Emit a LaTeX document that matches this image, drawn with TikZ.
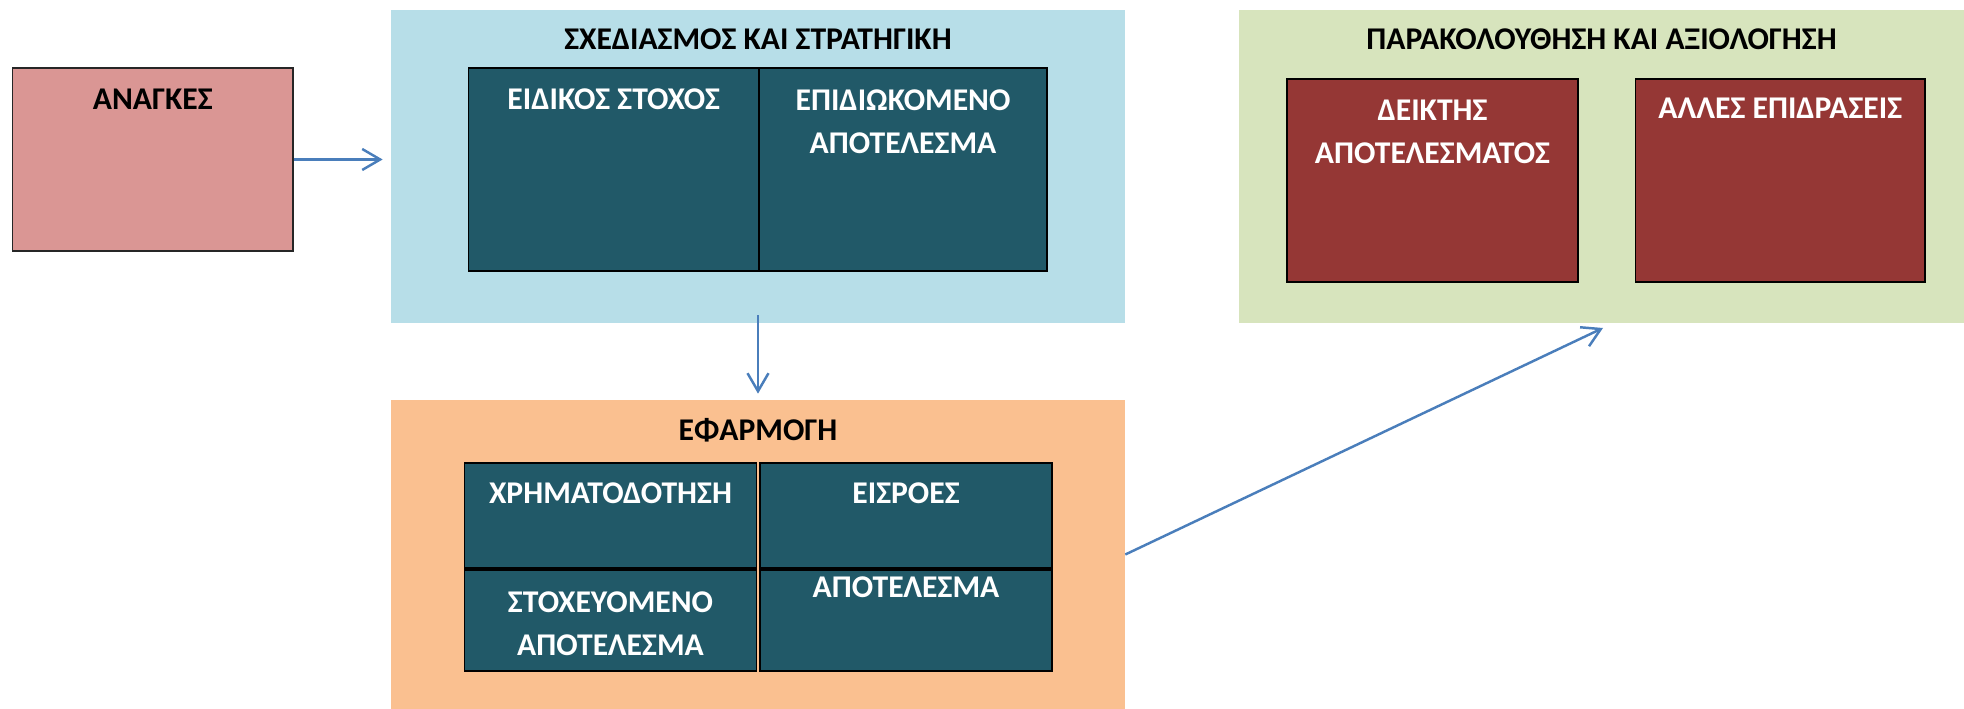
\documentclass[tikz,border=0pt]{standalone}
\usepackage{fontspec}
\setmainfont{Carlito}
\usepackage{tikz}
\usetikzlibrary{arrows.meta,positioning}
\definecolor{lfneed}{HTML}{DA9694}
\definecolor{lfplan}{HTML}{B7DEE8}
\definecolor{lfimpl}{HTML}{FAC090}
\definecolor{lfmon}{HTML}{D7E4BD}
\definecolor{lfteal}{HTML}{215968}
\definecolor{lfred}{HTML}{953735}
\definecolor{lfarrow}{HTML}{4A7EBB}
\newcommand{\lfbold}{\fontsize{18}{25}\selectfont\bfseries}
\tikzset{
  lfpanel/.style={
    rectangle, draw=none, inner sep=0pt
  },
  lfneedbox/.style={
    rectangle, draw=black!85, fill=lfneed, line width=0.8pt, inner sep=0pt
  },
  lfcell/.style={
    rectangle, draw=black, fill=lfteal, line width=0.6pt, inner sep=0pt
  },
  lfindbox/.style={
    rectangle, draw=black, fill=lfred, line width=0.6pt, inner sep=0pt
  },
  lftitle/.style={font=\lfbold,text=black,align=center,inner sep=0pt,anchor=base},
  lfcelltext/.style={font=\lfbold,text=white,align=center,inner sep=0pt,anchor=base},
  lfedge/.style={-{Straight Barb[length=3.6mm,width=4.2mm]},draw=lfarrow,line width=1.4pt}
}

\begin{document}
\begin{tikzpicture}[x=1cm,y=1cm]
\useasboundingbox (0,0) rectangle (39.28,14.18);
% Left: needs.
\node[lfneedbox,minimum width=5.61cm,minimum height=3.66cm] (need) at (3.055,10.99) {};
\node[lftitle] (needtxt) at (3.055,11.98) {ΑΝΑΓΚΕΣ};

% Middle top: planning and strategy (two-line texts sit on their last baseline).
\node[lfpanel,fill=lfplan,minimum width=14.68cm,minimum height=6.26cm] (plan) at (15.16,10.85) {};
\node[lftitle] (plantxt) at (15.16,13.18) {ΣΧΕΔΙΑΣΜΟΣ ΚΑΙ ΣΤΡΑΤΗΓΙΚΗ};
\node[lfcell,minimum width=5.81cm,minimum height=4.06cm] (goal) at (12.275,10.79) {};
\node[lfcell,minimum width=5.76cm,minimum height=4.06cm] (aim) at (18.06,10.79) {};
\node[lfcelltext] (goaltxt) at (12.275,11.98) {ΕΙΔΙΚΟΣ ΣΤΟΧΟΣ};
\node[lfcelltext] (aimtxt) at (18.06,11.10) {ΕΠΙΔΙΩΚΟΜΕΝΟ\\ΑΠΟΤΕΛΕΣΜΑ};

% Middle bottom: implementation.
\node[lfpanel,fill=lfimpl,minimum width=14.68cm,minimum height=6.18cm] (impl) at (15.16,3.09) {};
\node[lftitle] (impltxt) at (15.16,5.36) {ΕΦΑΡΜΟΓΗ};
\node[lfcell,minimum width=5.85cm,minimum height=2.10cm] (fund) at (12.21,3.87) {};
\node[lfcell,minimum width=5.84cm,minimum height=2.10cm] (input) at (18.12,3.87) {};
\node[lfcell,minimum width=5.85cm,minimum height=2.02cm] (target) at (12.21,1.77) {};
\node[lfcell,minimum width=5.84cm,minimum height=2.02cm] (result) at (18.12,1.77) {};
\node[lfcelltext] (fundtxt) at (12.21,4.10) {ΧΡΗΜΑΤΟΔΟΤΗΣΗ};
\node[lfcelltext] (inputtxt) at (18.12,4.10) {ΕΙΣΡΟΕΣ};
\node[lfcelltext] (targettxt) at (12.21,1.06) {ΣΤΟΧΕΥΟΜΕΝΟ\\ΑΠΟΤΕΛΕΣΜΑ};
\node[lfcelltext] (resulttxt) at (18.12,2.22) {ΑΠΟΤΕΛΕΣΜΑ};

% Right: monitoring and evaluation.
\node[lfpanel,fill=lfmon,minimum width=14.5cm,minimum height=6.26cm] (mon) at (32.03,10.85) {};
\node[lftitle] (montxt) at (32.03,13.18) {ΠΑΡΑΚΟΛΟΥΘΗΣΗ ΚΑΙ ΑΞΙΟΛΟΓΗΣΗ};
\node[lfindbox,minimum width=5.82cm,minimum height=4.06cm] (ind) at (28.65,10.57) {};
\node[lfindbox,minimum width=5.79cm,minimum height=4.06cm] (other) at (35.605,10.57) {};
\node[lfcelltext] (indtxt) at (28.65,10.90) {ΔΕΙΚΤΗΣ\\ΑΠΟΤΕΛΕΣΜΑΤΟΣ};
\node[lfcelltext] (othertxt) at (35.605,11.80) {ΑΛΛΕΣ ΕΠΙΔΡΑΣΕΙΣ};

\coordinate (monin) at (32.06,7.62);
\draw[lfedge] (need.east) -- ([xshift=-1.6mm]need.east -| plan.west);
\draw[lfedge] ([yshift=1.6mm]plan.south) -- ([yshift=1.2mm]impl.north);
\draw[lfedge] (impl.east) -- (monin);
\end{tikzpicture}
\end{document}
